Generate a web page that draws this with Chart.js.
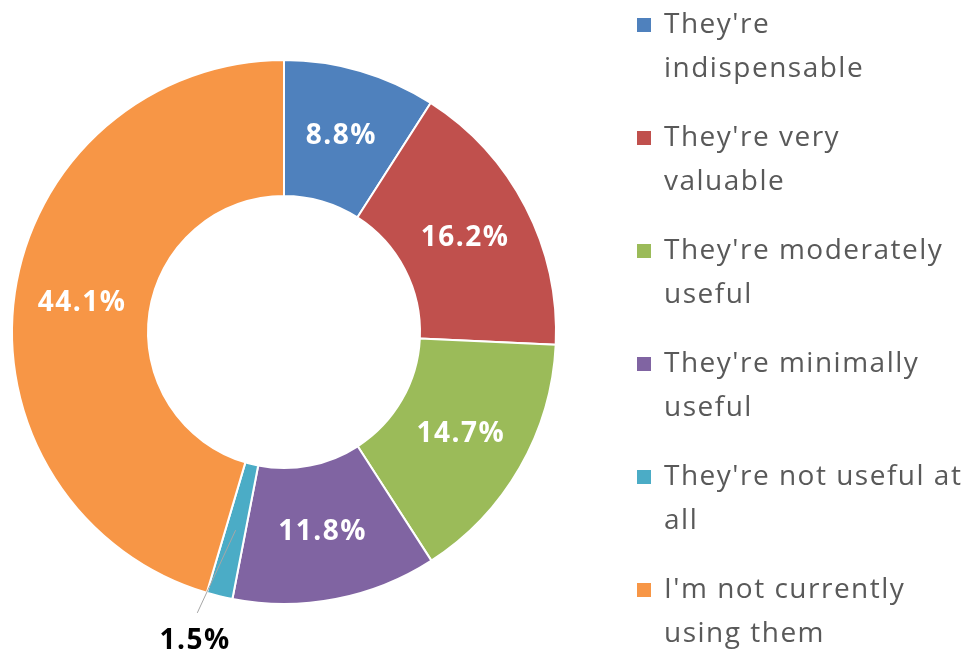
<!DOCTYPE html>
<html>
<head>
<meta charset="utf-8">
<script src="https://cdn.jsdelivr.net/npm/chart.js@4.4.1/dist/chart.umd.min.js"></script>
<style>
  html, body { margin: 0; padding: 0; background: #ffffff; }
  #wrap { position: relative; width: 977px; height: 656px; }
</style>
</head>
<body>
<div id="wrap"><canvas id="chart"></canvas></div>
<script>
// Survey answers, one slice per answer (legend text split into its wrapped lines)
const categories = [
  ["They're", "indispensable"],
  ["They're very", "valuable"],
  ["They're moderately", "useful"],
  ["They're minimally", "useful"],
  ["They're not useful at", "all"],
  ["I'm not currently", "using them"]
];
const shares = [8.8, 16.2, 14.7, 11.8, 1.5, 44.1];
const sliceColors = ["#4F81BD", "#C0504D", "#9BBB59", "#8064A2", "#4BACC6", "#F79646"];
// slices too thin to hold their label get it outside, with a leader line
const outsideLabels = [false, false, false, false, true, false];

const FONT = "'Open Sans', 'DejaVu Sans', sans-serif";

// Value labels on each arc
const sliceLabels = {
  id: 'sliceLabels',
  afterDatasetsDraw(chart) {
    const ctx = chart.ctx;
    const meta = chart.getDatasetMeta(0);
    ctx.save();
    ctx.font = "bold 28px " + FONT;
    ctx.letterSpacing = '1.5px';
    ctx.textAlign = 'center';
    ctx.textBaseline = 'middle';
    meta.data.forEach((arc, i) => {
      const p = arc.getProps(['x', 'y', 'startAngle', 'endAngle', 'innerRadius', 'outerRadius'], true);
      const mid = (p.startAngle + p.endAngle) / 2;
      const rMid = (p.innerRadius + p.outerRadius) / 2;
      const text = shares[i].toFixed(1) + '%';
      if (!outsideLabels[i]) {
        ctx.fillStyle = '#ffffff';
        ctx.fillText(text, p.x + Math.cos(mid) * rMid, p.y + Math.sin(mid) * rMid);
      } else {
        const a2 = mid + 0.06;
        const x0 = p.x + Math.cos(mid) * rMid, y0 = p.y + Math.sin(mid) * rMid;
        const x1 = p.x + Math.cos(a2) * (p.outerRadius + 22), y1 = p.y + Math.sin(a2) * (p.outerRadius + 22);
        ctx.strokeStyle = '#a6a6a6';
        ctx.lineWidth = 1;
        ctx.beginPath();
        ctx.moveTo(x0, y0);
        ctx.lineTo(x1, y1);
        ctx.stroke();
        const lx = p.x + Math.cos(mid + 0.04) * (p.outerRadius + 50);
        const ly = p.y + Math.sin(mid + 0.04) * (p.outerRadius + 50);
        ctx.fillStyle = '#000000';
        ctx.fillText(text, lx, ly);
      }
    });
    ctx.restore();
  }
};

// Legend on the right with wrapped entries
const wrappedLegend = {
  id: 'wrappedLegend',
  afterDraw(chart) {
    const ctx = chart.ctx;
    const left = 637, textX = 664, top = 25, step = 113, lineGap = 44, box = 14;
    ctx.save();
    ctx.font = "28px " + FONT;
    ctx.letterSpacing = '1.5px';
    ctx.textAlign = 'left';
    ctx.textBaseline = 'middle';
    categories.forEach((lines, i) => {
      const y = top + i * step;
      ctx.fillStyle = sliceColors[i];
      ctx.fillRect(left, y - box / 2, box, box);
      ctx.fillStyle = '#595959';
      lines.forEach((ln, j) => ctx.fillText(ln, textX, y + j * lineGap));
    });
    ctx.restore();
  }
};

new Chart(document.getElementById('chart'), {
  type: 'doughnut',
  data: {
    labels: categories.map(l => l.join(' ')),
    datasets: [{
      data: shares,
      backgroundColor: sliceColors,
      borderColor: '#ffffff',
      borderWidth: 2,
      hoverOffset: 0
    }]
  },
  options: {
    responsive: true,
    maintainAspectRatio: false,
    animation: false,
    cutout: '50%',
    layout: { padding: { left: 11, top: 59, right: 420, bottom: 51 } },
    plugins: {
      legend: { display: false },
      tooltip: { enabled: false }
    }
  },
  plugins: [sliceLabels, wrappedLegend]
});
</script>
</body>
</html>
